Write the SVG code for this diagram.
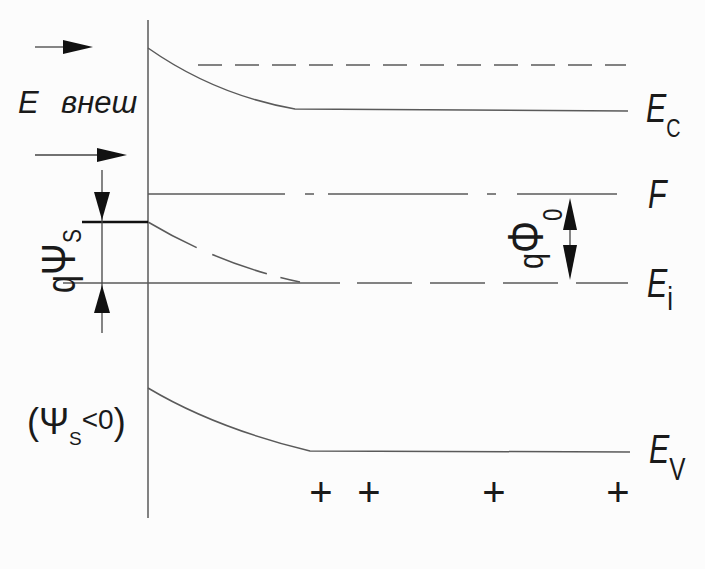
<svg xmlns="http://www.w3.org/2000/svg" width="705" height="569" viewBox="0 0 705 569">
<style>
.ln{fill:none;stroke:#5a5a5a;stroke-width:1.5}
.thin{fill:none;stroke:#444;stroke-width:1.3}
.ah{fill:#111;stroke:none}
.t{font-family:"Liberation Sans",Arial,sans-serif;fill:#1a1a1a}
.it{font-style:italic}
</style>
<rect width="705" height="569" fill="#fcfcfc"/>
<g id="axis">
<line class="ln" x1="148" y1="20" x2="148" y2="518"/>
</g>
<g id="bands">
<path id="band-Ec" class="ln" d="M148,48 Q215,95 295,109 L628,111"/>
<line id="band-Ec-flat" class="ln" x1="198" y1="65" x2="626" y2="65" stroke-dasharray="24 13"/>
<line id="band-F" class="ln" x1="148" y1="194" x2="617" y2="194" stroke-dasharray="137 20 9 14 140 19 9 21 100"/>
<path id="band-Ei-bent" class="ln" d="M148,222 Q220,265 300,282" stroke-dasharray="55 17 58 14 22"/>
<line id="band-Ei-solid" class="ln" x1="63" y1="283" x2="340" y2="283"/>
<line id="band-Ei-dash" class="ln" x1="357" y1="283" x2="628" y2="283" stroke-dasharray="55 18"/>
<path id="band-Ev" class="ln" d="M148,388 Q215,428 310,451 L630,452"/>
<line id="surface-level" x1="82" y1="222" x2="148" y2="222" stroke="#111" stroke-width="2.6"/>
</g>
<g id="connectors">
<line class="thin" x1="35" y1="47" x2="65" y2="47"/>
<polygon class="ah" points="63,40 93,47 63,54"/>
<line class="thin" x1="35" y1="155" x2="99" y2="155"/>
<polygon class="ah" points="97,148 127,155 97,162"/>
<line class="thin" x1="102" y1="170" x2="102" y2="333"/>
<polygon class="ah" points="94,192 110,192 102,220"/>
<polygon class="ah" points="102,285 94,313 110,313"/>
<line class="thin" x1="570" y1="205" x2="570" y2="272"/>
<polygon class="ah" points="570,198 563,230 577,230"/>
<polygon class="ah" points="563,245 577,245 570,280"/>
</g>
<g id="label-Evnesh">
<text class="t it" x="18" y="113" font-size="31">E<tspan x="61">внеш</tspan></text>
</g>
<g id="label-Ec">
<text class="t it" transform="translate(646,122) scale(0.76,1)" font-size="40">E<tspan font-size="26" font-style="normal" dy="15">C</tspan></text>
</g>
<g id="label-F">
<text class="t it" transform="translate(648,208) scale(0.76,1)" font-size="40">F</text>
</g>
<g id="label-Ei">
<text class="t it" transform="translate(647,297) scale(0.76,1)" font-size="40">E<tspan font-size="34" font-style="normal" dy="13">i</tspan></text>
</g>
<g id="label-Ev">
<text class="t it" transform="translate(649,463) scale(0.76,1)" font-size="40">E<tspan font-size="32" font-style="normal" dy="17">V</tspan></text>
</g>
<g id="label-qPsiS">
<text class="t" transform="translate(75,293) rotate(-90) scale(0.8,1)" font-size="40">q<tspan font-size="48">Ψ</tspan><tspan font-size="26" dy="6">S</tspan></text>
</g>
<g id="label-qPhi0">
<text class="t" transform="translate(543,269) rotate(-90) scale(0.8,1)" font-size="36">q<tspan font-size="50">Φ</tspan><tspan font-size="28" dy="19">0</tspan></text>
</g>
<g id="label-psi-cond">
<text class="t" x="27" y="434" font-size="36">(Ψ<tspan font-size="19" dy="11">S</tspan><tspan font-size="28" dy="-16">&lt;0</tspan><tspan font-size="36" dy="5">)</tspan></text>
</g>
<g id="charges" class="t" font-size="40" text-anchor="middle">
<text x="321" y="506">+</text>
<text x="369" y="506">+</text>
<text x="494" y="506">+</text>
<text x="618" y="506">+</text>
</g>
</svg>
